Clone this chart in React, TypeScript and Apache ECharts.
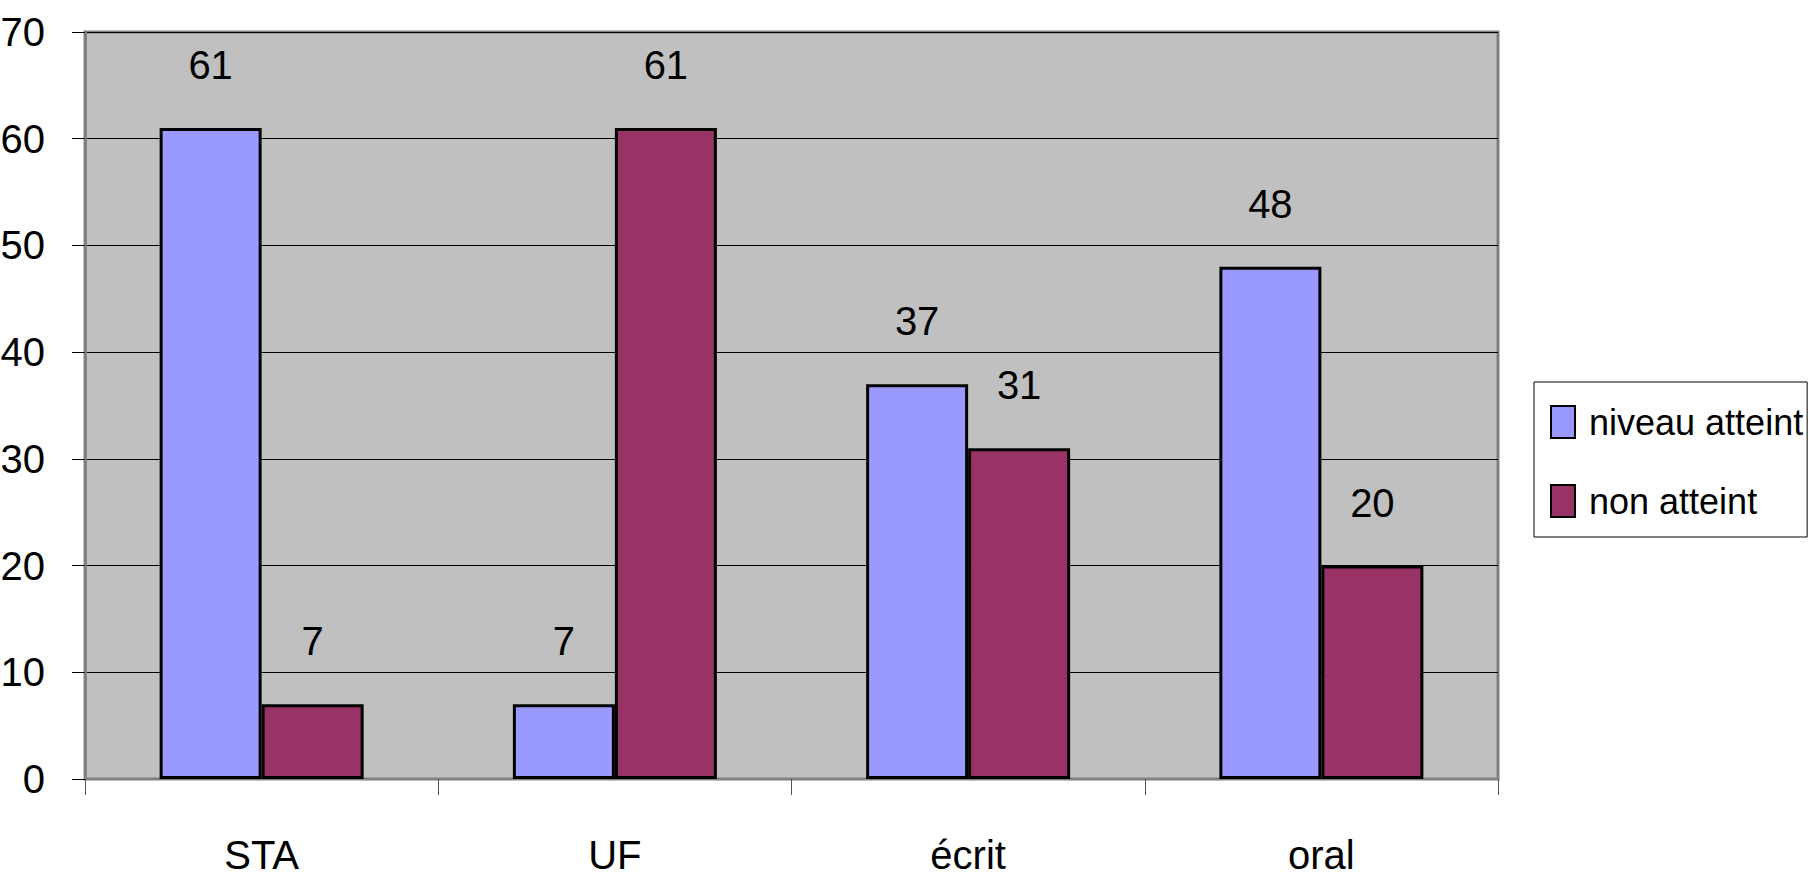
import React, { useEffect, useRef } from "react";
import * as echarts from "echarts";

const categories = ["STA", "UF", "écrit", "oral"];
const seriesNames = ["niveau atteint", "non atteint"];
const niveauAtteint = [61, 7, 37, 48];
const nonAtteint = [7, 61, 31, 20];
const yTicks = { min: 0, max: 70, interval: 10 };

const FONT = "'Liberation Sans', Arial, sans-serif";

export default function App() {
  const ref = useRef<HTMLDivElement>(null);
  useEffect(() => {
    if (!ref.current) return;
    const chart = echarts.init(ref.current, undefined, { renderer: "svg" });
    const label = {
      show: true,
      position: "top",
      distance: 43,
      fontSize: 40,
      fontFamily: FONT,
      color: "#000",
    };
    chart.setOption({
      animation: false,
      backgroundColor: "#fff",
      textStyle: { fontFamily: FONT },
      grid: {
        left: 85,
        right: 316,
        top: 32,
        bottom: 99,
        containLabel: false,
        outerBoundsMode: "none",
        show: true,
        backgroundColor: "#C0C0C0",
        borderColor: "#808080",
        borderWidth: 3,
      },
      legend: {
        orient: "vertical",
        left: 1534,
        top: 382,
        padding: [22, 4, 18, 16],
        itemWidth: 24,
        itemHeight: 32,
        itemGap: 43,
        borderColor: "#000",
        borderWidth: 1,
        backgroundColor: "#fff",
        icon: "rect",
        textStyle: { fontSize: 36, fontFamily: FONT, color: "#000", padding: [0, 0, 0, 9] },
        data: seriesNames,
      },
      xAxis: {
        type: "category",
        data: categories,
        axisLine: { lineStyle: { color: "#808080", width: 2 } },
        axisTick: { show: true, length: 16, alignWithLabel: false, lineStyle: { color: "#555", width: 1 } },
        axisLabel: { fontSize: 40, fontFamily: FONT, color: "#000", margin: 56 },
        splitLine: { show: false },
      },
      yAxis: {
        type: "value",
        min: yTicks.min,
        max: yTicks.max,
        interval: yTicks.interval,
        axisLine: { show: true, lineStyle: { color: "#808080", width: 3 } },
        axisTick: { show: true, length: 13, lineStyle: { color: "#000", width: 1 } },
        axisLabel: { fontSize: 40, fontFamily: FONT, color: "#000", margin: 40 },
        splitLine: { show: true, lineStyle: { color: "#000", width: 1 } },
      },
      series: [
        {
          name: seriesNames[0],
          type: "bar",
          data: niveauAtteint,
          barWidth: 102,
          barGap: "0%",
          itemStyle: { color: "#9999FF", borderColor: "#000", borderWidth: 3 },
          label,
        },
        {
          name: seriesNames[1],
          type: "bar",
          data: nonAtteint,
          barWidth: 102,
          barGap: "0%",
          itemStyle: { color: "#993366", borderColor: "#000", borderWidth: 3 },
          label,
        },
      ],
    });
    return () => chart.dispose();
  }, []);
  return (
    <div
      ref={ref}
      style={{ position: "fixed", left: 0, top: 0, width: 1814, height: 878 }}
    />
  );
}
